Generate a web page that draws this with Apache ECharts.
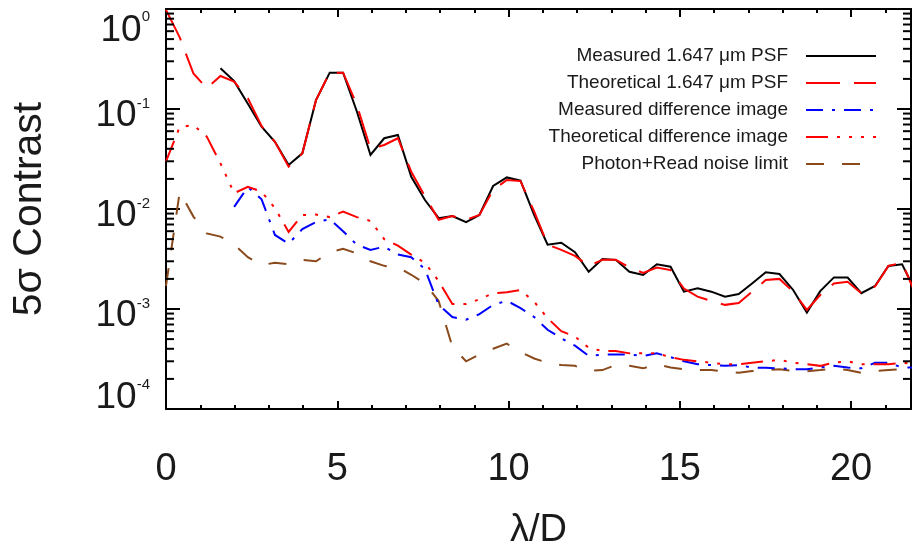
<!DOCTYPE html>
<html>
<head>
<meta charset="utf-8">
<script src="https://cdn.jsdelivr.net/npm/echarts@6/dist/echarts.min.js"></script>
<style>
  html, body { margin: 0; padding: 0; background: #fff; }
  #chart { width: 912px; height: 548px; }
</style>
</head>
<body>
<div id="chart"></div>
<script>
// Radial separation (lambda/D) of each sample
const lambdaD = [0, 0.40, 0.80, 1.19, 1.59, 1.99, 2.39, 2.79, 3.18, 3.58,
  3.98, 4.38, 4.78, 5.17, 5.57, 5.97, 6.37, 6.77, 7.16, 7.56,
  7.96, 8.36, 8.76, 9.15, 9.55, 9.95, 10.35, 10.75, 11.14, 11.54,
  11.94, 12.34, 12.74, 13.13, 13.53, 13.93, 14.33, 14.73, 15.12, 15.52,
  15.92, 16.32, 16.72, 17.11, 17.51, 17.91, 18.31, 18.71, 19.10, 19.50,
  19.90, 20.30, 20.70, 21.09, 21.49, 21.89];

// 5-sigma contrast curves (null = no measurement at that separation)
const measuredPSF = [null, null, null, null, 0.255, 0.19, 0.113, 0.0666, 0.047, 0.0275,
  0.036, 0.123, 0.231, 0.231, 0.095, 0.0347, 0.051, 0.055, 0.021, 0.0123,
  0.0081, 0.0085, 0.0074, 0.0087, 0.017, 0.0207, 0.0192, 0.0087, 0.0044, 0.0046,
  0.0037, 0.00236, 0.00316, 0.0031, 0.00236, 0.00219, 0.0028, 0.00265, 0.00149, 0.00161,
  0.00149, 0.00133, 0.00141, 0.0018, 0.00233, 0.00224, 0.00155, 0.00092, 0.00151, 0.00207,
  0.00206, 0.00144, 0.0017, 0.00269, 0.0028, 0.00148];

const theoreticalPSF = [0.98, 0.52, 0.227, 0.161, 0.214, 0.1875, 0.128, 0.0676, 0.047, 0.0265,
  0.036, 0.123, 0.231, 0.231, 0.11, 0.04, 0.0437, 0.051, 0.0236, 0.0134,
  0.0078, 0.0085, 0.0078, 0.0087, 0.0155, 0.0195, 0.019, 0.0094, 0.0044, 0.0039,
  0.0034, 0.0027, 0.0031, 0.0031, 0.0026, 0.0023, 0.0026, 0.00245, 0.0016, 0.00133,
  0.0012, 0.0011, 0.00115, 0.00149, 0.00195, 0.002, 0.00149, 0.00098, 0.00138, 0.0018,
  0.00187, 0.00144, 0.00168, 0.0027, 0.0029, 0.0014];

const measuredDiff = [null, null, null, null, null, 0.0105, 0.0166, 0.0125, 0.0055, 0.0045,
  0.0063, 0.0074, 0.0079, 0.006, 0.0044, 0.0039, 0.0042, 0.0035, 0.0033, 0.0025,
  0.0011, 0.00083, 0.00078, 0.00089, 0.0011, 0.00121, 0.00102, 0.00083, 0.00062, 0.00051,
  0.00043, 0.00034, 0.00035, 0.00035, 0.00035, 0.00034, 0.00036, 0.00033, 0.0003, 0.00028,
  0.000275, 0.00027, 0.000275, 0.00026, 0.000258, 0.000255, 0.00025, 0.00025, 0.00026, 0.00027,
  0.00026, 0.000255, 0.00029, 0.00029, 0.00026, 0.00026];

const theoreticalDiff = [0.03, 0.066, 0.069, 0.053, 0.0286, 0.0144, 0.0167, 0.0149, 0.0102, 0.0059,
  0.0087, 0.0088, 0.0083, 0.0094, 0.0083, 0.0076, 0.005, 0.0043, 0.0035, 0.0029,
  0.0019, 0.00112, 0.00112, 0.00125, 0.00144, 0.00147, 0.00155, 0.00118, 0.00081, 0.0006,
  0.00053, 0.00041, 0.00038, 0.00038, 0.00036, 0.00036, 0.00036, 0.00033, 0.00031, 0.0003,
  0.00029, 0.00028, 0.00028, 0.00029, 0.0003, 0.00031, 0.00029, 0.00028, 0.00027, 0.00029,
  0.0003, 0.00028, 0.00028, 0.00028, 0.00029, 0.00028];

const photonReadLimit = [0.0017, 0.0148, 0.0084, 0.0057, 0.0053, 0.0044, 0.0033, 0.00275, 0.0029, 0.0028,
  0.0031, 0.003, 0.0037, 0.004, 0.0036, 0.003, 0.0027, 0.0026, 0.0022, 0.0018,
  0.0012, 0.00042, 0.0003, 0.00035, 0.0004, 0.00045, 0.00037, 0.00032, 0.00029, 0.000275,
  0.00027, 0.00024, 0.000245, 0.000275, 0.00027, 0.000255, 0.00028, 0.00026, 0.00025, 0.000245,
  0.000245, 0.000236, 0.00023, 0.00024, 0.000245, 0.00025, 0.00024, 0.000238, 0.000245, 0.000255,
  0.000245, 0.00023, 0.00024, 0.000245, 0.00025, 0.00025];

const seriesNames = [
  'Measured 1.647 \u03bcm PSF',
  'Theoretical 1.647 \u03bcm PSF',
  'Measured difference image',
  'Theoretical difference image',
  'Photon+Read noise limit'
];

// Axis ranges and tick layout
const xMin = 0, xMax = 21.75, xMajor = 5;
const yMin = 1e-4, yMax = 1;
const decades = [-4, -3, -2, -1];
const minorMantissas = [2, 3, 4, 5, 6, 7, 8, 9];

const FONT = "'Liberation Sans', Arial, Helvetica, sans-serif";
const INK = '#000';
const TEXT = '#1a1a1a';

function pairs(values) {
  const out = [];
  values.forEach((v, i) => { if (v !== null) out.push([lambdaD[i], v]); });
  return out;
}

// Minor tick values on the logarithmic contrast axis
const yMinorTicks = [];
decades.forEach(e => minorMantissas.forEach(m => yMinorTicks.push([xMin, m * Math.pow(10, e)])));

function lineSeries(name, values, color, dash, z) {
  return {
    name: name, type: 'line', data: pairs(values),
    symbol: 'none', showSymbol: false, z: z,
    color: color,
    lineStyle: { color: color, width: 2, type: dash, cap: 'butt', join: 'miter' },
    emphasis: { disabled: true }, animation: false
  };
}

// "10" with a raised exponent. A zero-width strut fixes an 80px line box; the
// digits and the exponent are top-aligned in it and placed by their top padding,
// so the end labels can be nudged inside the frame.
function powerLabel(v) {
  const e = Math.round(Math.log10(v));
  const key = e >= 0 ? 't' : (e <= -4 ? 'm' : 'c');
  return '{s|\u200b}{b' + key + '|10}{e' + key + '|' + e + '}';
}
const base = { fontFamily: FONT, fontSize: 37, color: TEXT, lineHeight: 38, verticalAlign: 'top' };
const expo = { fontFamily: FONT, fontSize: 15, color: TEXT, lineHeight: 15, verticalAlign: 'top' };
const labelRich = {
  s: { fontFamily: FONT, fontSize: 1, color: 'rgba(0,0,0,0)', lineHeight: 80 },
  bt: Object.assign({}, base, { padding: [43, 0, 0, 0] }),
  et: Object.assign({}, expo, { padding: [40, 0, 0, 0] }),
  bc: Object.assign({}, base, { padding: [28, 0, 0, 0] }),
  ec: Object.assign({}, expo, { padding: [27, 0, 0, 0] }),
  bm: Object.assign({}, base, { padding: [10, 0, 0, 0] }),
  em: Object.assign({}, expo, { padding: [8, 0, 0, 0] })
};

const chart = echarts.init(document.getElementById('chart'), null, { renderer: 'canvas' });

const xAxisCommon = {
  type: 'value', min: xMin, max: xMax, interval: xMajor,
  axisLine: { show: true, onZero: false, lineStyle: { color: INK, width: 2 } },
  axisTick: { show: true, inside: true, length: 8, lineStyle: { color: INK, width: 2 } },
  minorTick: { show: true, splitNumber: 5, length: 4, lineStyle: { color: INK, width: 2 } },
  splitLine: { show: false }, minorSplitLine: { show: false }
};

const yAxisCommon = {
  type: 'log', logBase: 10, min: yMin, max: yMax,
  axisLine: { show: true, onZero: false, lineStyle: { color: INK, width: 2 } },
  axisTick: { show: true, inside: true, length: 14, lineStyle: { color: INK, width: 2 } },
  minorTick: { show: false },
  splitLine: { show: false }
};

chart.setOption({
  animation: false,
  backgroundColor: '#fff',
  grid: { left: 166, right: 1, top: 9, bottom: 139, containLabel: false, outerBoundsMode: 'none' },
  legend: {
    data: seriesNames,
    orient: 'vertical', align: 'right',
    right: 30, top: 41,
    itemWidth: 70, itemHeight: 14, itemGap: 7,
    selectedMode: false,
    itemStyle: { color: 'rgba(0,0,0,0)', borderColor: 'rgba(0,0,0,0)', borderWidth: 0 },
    textStyle: { fontFamily: FONT, fontSize: 19, color: TEXT, lineHeight: 20, padding: [0, 13, 0, 0] }
  },
  xAxis: [
    Object.assign({}, xAxisCommon, {
      position: 'bottom',
      name: '\u03bb/D', nameLocation: 'middle', nameGap: 103,
      nameTextStyle: { fontFamily: FONT, fontSize: 38, color: TEXT },
      axisLabel: { show: true, margin: 42, showMaxLabel: false, fontFamily: FONT, fontSize: 38, color: TEXT }
    }),
    Object.assign({}, xAxisCommon, { position: 'top', axisLabel: { show: false } })
  ],
  yAxis: [
    Object.assign({}, yAxisCommon, {
      position: 'left',
      name: '5\u03c3 Contrast', nameLocation: 'middle', nameGap: 116, nameRotate: 90,
      nameTextStyle: { fontFamily: FONT, fontSize: 41, color: TEXT },
      axisLabel: { show: true, margin: 16, formatter: powerLabel, rich: labelRich }
    }),
    Object.assign({}, yAxisCommon, { position: 'right', axisLabel: { show: false } })
  ],
  series: [
    lineSeries(seriesNames[0], measuredPSF, '#000000', 'solid', 5),
    lineSeries(seriesNames[1], theoreticalPSF, '#ff0000', [34, 14], 6),
    lineSeries(seriesNames[2], measuredDiff, '#0000ff', [17, 9, 3, 9], 3),
    lineSeries(seriesNames[3], theoreticalDiff, '#ff0000', [22, 9, 3, 9, 3, 9, 3, 9], 4),
    lineSeries(seriesNames[4], photonReadLimit, '#8b4a1c', [18, 18], 2),
    {
      // minor ticks of the log axis, on the left and right frame edges
      type: 'custom', name: 'yMinorTicks', data: yMinorTicks, silent: true, z: 10,
      clip: false, animation: false,
      renderItem: function (params, api) {
        const v = api.value(1);
        const pl = api.coord([xMin, v]);
        const pr = api.coord([xMax, v]);
        const style = { stroke: INK, lineWidth: 2 };
        return {
          type: 'group', children: [
            { type: 'line', shape: { x1: pl[0], y1: pl[1], x2: pl[0] + 8, y2: pl[1] }, style: style },
            { type: 'line', shape: { x1: pr[0], y1: pr[1], x2: pr[0] - 8, y2: pr[1] }, style: style }
          ]
        };
      }
    }
  ]
});
</script>
</body>
</html>
